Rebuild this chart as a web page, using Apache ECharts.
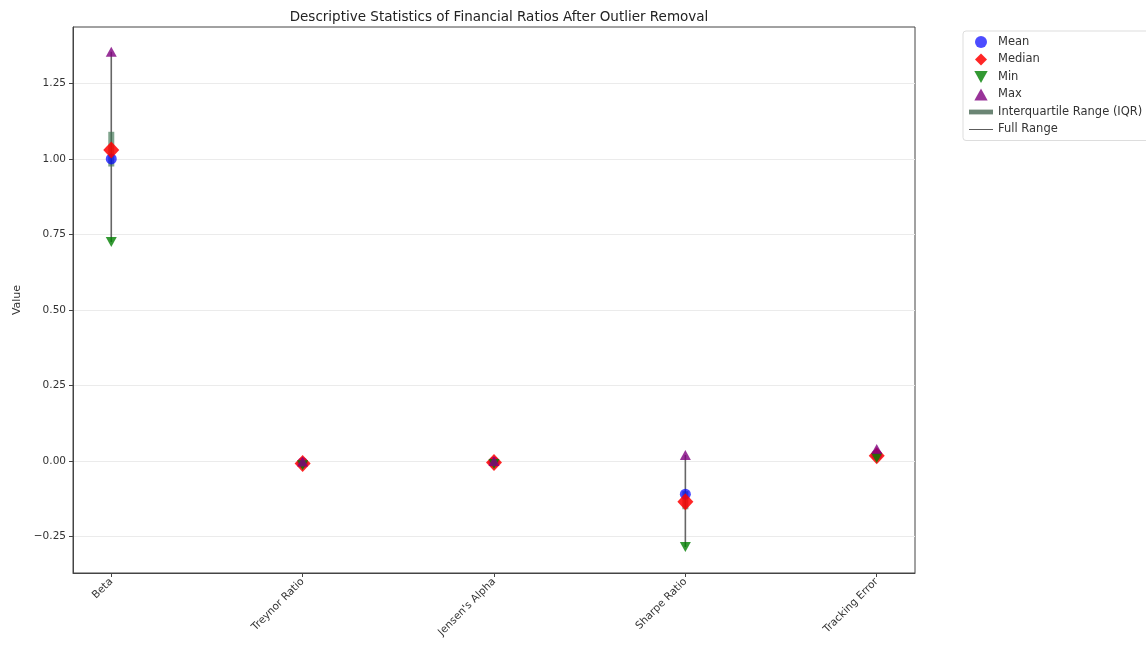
<!DOCTYPE html>
<html>
<head>
<meta charset="utf-8">
<script src="https://cdn.jsdelivr.net/npm/echarts@6/dist/echarts.min.js"></script>
<style>
  html, body { margin: 0; padding: 0; background: #fff; }
  #chart { width: 1146px; height: 646px; }
</style>
</head>
<body>
<div id="chart"></div>
<script>
// Financial ratios and their summary statistics after outlier removal
const categories = ['Beta', 'Treynor Ratio', "Jensen's Alpha", 'Sharpe Ratio', 'Tracking Error'];
const means   = [1.00, -0.006, -0.004, -0.11, 0.020];
const medians = [1.03, -0.008, -0.005, -0.135, 0.017];
const mins    = [0.725, -0.014, -0.010, -0.285, 0.010];
const maxs    = [1.355, -0.002, 0.000, 0.020, 0.040];
const q1s     = [0.975, -0.010, -0.007, -0.16, 0.014];
const q3s     = [1.09, -0.004, -0.003, -0.10, 0.026];
const yTicks  = [-0.25, 0.00, 0.25, 0.50, 0.75, 1.00, 1.25];

const xIdx = categories.map((_, i) => i);
const pts = arr => arr.map((v, i) => [i, v]);
const ranges = (lo, hi) => lo.map((v, i) => [i, v, hi[i]]);

// vertical segment between two values at one category position
function segment(color, width) {
  return function (params, api) {
    const a = api.coord([api.value(0), api.value(1)]);
    const b = api.coord([api.value(0), api.value(2)]);
    return {
      type: 'line',
      shape: { x1: a[0], y1: a[1], x2: b[0], y2: b[1] },
      style: { stroke: color, lineWidth: width }
    };
  };
}

const downTri = 'path://M0,0L10,0L5,9Z';
const fmtY = v => (v < 0 ? '\u2212' : '') + Math.abs(v).toFixed(2);

const chart = echarts.init(document.getElementById('chart'), null, { renderer: 'canvas' });
chart.setOption({
  animation: false,
  backgroundColor: '#fff',
  textStyle: { fontFamily: 'DejaVu Sans' },
  title: {
    text: 'Descriptive Statistics of Financial Ratios After Outlier Removal',
    left: 494, top: 5, textAlign: 'center',
    textStyle: { fontSize: 13.5, fontWeight: 'normal', color: '#222', fontFamily: 'DejaVu Sans' }
  },
  legend: {
    orient: 'vertical',
    left: 963, top: 31,
    padding: [5, 10, 5, 6],
    itemWidth: 24, itemHeight: 12, itemGap: 5.5,
    borderColor: '#ddd', borderWidth: 1, borderRadius: 3,
    textStyle: { fontSize: 11.5, color: '#333', fontFamily: 'DejaVu Sans' },
    data: [
      { name: 'Mean', icon: 'circle' },
      { name: 'Median', icon: 'path://M5,0L10,5L5,10L0,5Z' },
      { name: 'Min', icon: downTri },
      { name: 'Max', icon: 'path://M5,0L10,9L0,9Z' },
      { name: 'Interquartile Range (IQR)', icon: 'path://M0,0L20,0L20,4L0,4Z' },
      { name: 'Full Range', icon: 'path://M0,0L20,0L20,0.8L0,0.8Z' }
    ]
  },
  grid: {
    left: 73, right: 231, top: 27, bottom: 73,
    show: true, borderColor: '#444', borderWidth: 1, backgroundColor: 'transparent'
  },
  xAxis: {
    type: 'value', min: -0.2, max: 4.2,
    axisLine: { show: true, onZero: false, lineStyle: { color: '#444' } },
    axisTick: { show: true, customValues: xIdx, length: 4, lineStyle: { color: '#444' } },
    splitLine: { show: false },
    axisLabel: {
      customValues: xIdx, rotate: 45, fontSize: 10.5, color: '#333', margin: 7,
      formatter: v => categories[Math.round(v)]
    }
  },
  yAxis: {
    type: 'value', min: -0.371, max: 1.437,
    name: 'Value', nameLocation: 'middle', nameGap: 50, nameRotate: 90,
    nameTextStyle: { fontSize: 11, color: '#333' },
    axisLine: { show: true, onZero: false, lineStyle: { color: '#444' } },
    axisTick: { show: true, customValues: yTicks, length: 4, lineStyle: { color: '#444' } },
    splitLine: { show: true, lineStyle: { color: '#ebebeb', width: 1 } },
    axisLabel: { customValues: yTicks, fontSize: 10.5, color: '#333', margin: 7, formatter: fmtY }
  },
  series: [
    {
      name: 'Full Range', type: 'custom', data: ranges(mins, maxs),
      renderItem: segment('#666', 1.6),
      itemStyle: { color: '#555' },
      encode: { x: 0, y: [1, 2] }
    },
    {
      name: 'Interquartile Range (IQR)', type: 'custom', data: ranges(q1s, q3s),
      renderItem: segment('rgba(60,115,80,0.65)', 6),
      itemStyle: { color: '#6b8574' },
      encode: { x: 0, y: [1, 2] }
    },
    {
      name: 'Mean', type: 'scatter', data: pts(means),
      symbol: 'circle', symbolSize: 11,
      itemStyle: { color: 'blue', opacity: 0.7 }
    },
    {
      name: 'Median', type: 'scatter', data: pts(medians),
      symbol: 'diamond', symbolSize: [16, 17],
      itemStyle: { color: 'red', opacity: 0.85 }
    },
    {
      name: 'Min', type: 'scatter', data: pts(mins),
      symbol: downTri, symbolSize: [11, 10],
      itemStyle: { color: 'green', opacity: 0.8 }
    },
    {
      name: 'Max', type: 'scatter', data: pts(maxs),
      symbol: 'triangle', symbolSize: [11, 10],
      itemStyle: { color: 'purple', opacity: 0.8 }
    }
  ]
});
</script>
</body>
</html>
